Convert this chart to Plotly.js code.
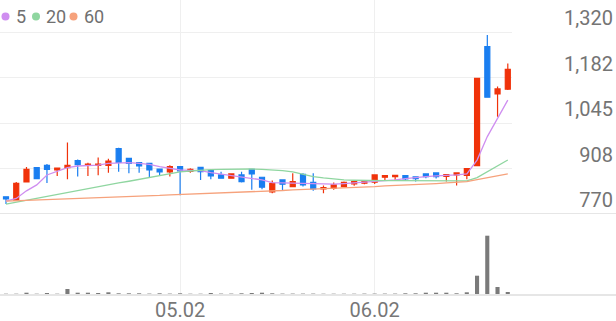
<!DOCTYPE html>
<html>
<head>
<meta charset="utf-8">
<script src="https://cdn.plot.ly/plotly-3.0.1.min.js"></script>
<style>html,body{margin:0;padding:0;background:#fff;}#chart{width:616px;height:321px;}</style>
</head>
<body>
<div id="chart"></div>
<script>
const dates = ['04.08','04.09','04.10','04.11','04.14','04.15','04.16','04.17','04.18','04.21',
  '04.22','04.23','04.24','04.25','04.28','04.29','04.30','05.02','05.07','05.08',
  '05.09','05.12','05.13','05.14','05.15','05.16','05.19','05.20','05.21','05.22',
  '05.23','05.26','05.27','05.28','05.29','05.30','06.02','06.04','06.05','06.09',
  '06.10','06.11','06.12','06.13','06.16','06.17','06.18','06.19','06.20','06.23'];
const openP  = [822,812,867,910,917,903,910,931,917,917,917,968,938,925,923,906,897,913,899,911,
  901,888,878,888,905,881,837,873,853,890,866,846,848,853,861,863,866,881,883,886,
  882,891,894,884,888,887,916,1276,1133,1147];
const highP  = [823,867,912,912,921,909,986,935,925,941,937,970,940,926,925,907,917,914,908,912,
  903,898,893,898,907,882,871,874,893,893,893,856,865,868,869,871,889,888,888,887,
  882,892,895,891,895,909,1181,1311,1155,1225];
const lowP   = [800,811,865,876,864,885,875,883,885,887,895,898,893,895,881,886,883,827,895,873,
  875,877,877,865,843,845,833,840,851,853,840,833,843,851,855,860,861,870,873,871,
  868,878,877,868,856,875,915,1122,1064,1145];
const closeP = [816,863,905,877,905,909,917,919,921,921,930,926,923,915,903,897,913,900,905,898,
  885,878,891,868,891,851,863,860,868,858,846,850,858,866,868,870,888,886,887,876,
  877,883,883,889,894,907,1180,1123,1148,1207];
const ma5  = [809,817,840,858,888,898,910,915,917,918,923,925,925,923,920,913,908,903,902,901,
  895,891,886,883,879,873,865,864,863,863,862,861,860,862,864,867,867,871,873,877,
  881,883,885,886,888,891,933,1004,1059,1114];
const ma20 = [800,806,811,817,823,829,835,840,846,852,858,864,869,875,881,886,892,897,900,903,
  904,905,906,906,906,905,904,901,897,890,883,879,875,873,872,871,871,871,871,871,
  871,871,870,870,870,870,880,897,915,933];
const ma60 = [809,810,811,813,814,815,816,817,818,820,821,822,823,824,825,826,828,829,830,831,
  833,834,835,836,838,839,840,841,843,844,845,846,848,849,850,852,853,855,856,858,
  859,861,862,864,866,868,874,880,885,891];
const volume = [3,3,13,3,10,3,50,13,13,10,17,7,7,7,4,7,4,7,3,3,
  10,4,4,7,10,13,7,4,4,4,4,3,3,3,3,4,4,4,4,7,
  7,13,13,13,7,17,183,583,70,20];
const maNames = ['5','20','60'];
const maColors = ['#cf8ef0','#8fd6a0','#f6a27c'];
const yTickVals = [770, 907.5, 1045, 1182.5, 1320];
const yTickText = ['770','908','1,045','1,182','1,320'];
const xTickLabels = ['05.02','06.02'];

const idx = dates.map((d, i) => i);
const xTickVals = xTickLabels.map(l => dates.indexOf(l));

const traces = [
  {type:'candlestick', x: idx, open: openP, high: highP, low: lowP, close: closeP,
   xaxis:'x', yaxis:'y', whiskerwidth: 0, showlegend:false, hoverinfo:'skip',
   increasing:{line:{color:'#f0320a', width:1.2}, fillcolor:'#f0320a'},
   decreasing:{line:{color:'#1a7ef0', width:1.2}, fillcolor:'#1a7ef0'}},
  {type:'scatter', mode:'lines', x: idx, y: ma5, xaxis:'x', yaxis:'y', line:{color:maColors[0], width:1.3}, showlegend:false, hoverinfo:'skip'},
  {type:'scatter', mode:'lines', x: idx, y: ma20, xaxis:'x', yaxis:'y', line:{color:maColors[1], width:1.3}, showlegend:false, hoverinfo:'skip'},
  {type:'scatter', mode:'lines', x: idx, y: ma60, xaxis:'x', yaxis:'y', line:{color:maColors[2], width:1.3}, showlegend:false, hoverinfo:'skip'},
  {type:'bar', x: idx, y: volume, xaxis:'x2', yaxis:'y2', width:0.4, marker:{color:'#7a7a7a'}, showlegend:false, hoverinfo:'skip'}
];

const plotH = 294;
const py = p => (plotH - p) / plotH;
const legendX = [5.5, 36, 73.5];
const legendTextX = [13.5, 44, 81.5];
const shapes = maColors.map((c, i) => ({
  type:'circle', xref:'paper', yref:'paper', xsizemode:'pixel', ysizemode:'pixel',
  xanchor: legendX[i]/616, yanchor: py(16.5), x0:-4, x1:4, y0:-4, y1:4,
  fillcolor:c, line:{width:0}
}));
const annotations = maNames.map((n, i) => ({
  xref:'paper', yref:'paper', x: legendTextX[i]/616, y: py(16.5), xanchor:'left', yanchor:'middle',
  text:n, showarrow:false, font:{family:'Roboto', size:18, color:'#707070'}
}));

const layout = {
  width:616, height:321, margin:{l:0, r:0, t:0, b:27},
  paper_bgcolor:'#fff', plot_bgcolor:'#fff',
  font:{family:'Roboto', color:'#707070'},
  showlegend:false, dragmode:false,
  xaxis:{domain:[0, 512/616], range:[-0.586, 49.41], anchor:'y', tickvals:xTickVals, showticklabels:false,
    showgrid:true, gridcolor:'#efefef', gridwidth:1, zeroline:false, showline:false, ticks:'',
    rangeslider:{visible:false}, fixedrange:true},
  yaxis:{domain:[1 - 214/294, 1], range:[770, 1416.7], anchor:'free', position:1, side:'right',
    ticklabelposition:'inside', tickvals:yTickVals, ticktext:yTickText, ticklabelshift:-14, ticklabelstandoff:0,
    tickfont:{family:'Roboto', size:20, color:'#747474'}, showgrid:true, gridcolor:'#efefef', gridwidth:1,
    zeroline:false, showline:false, ticks:'', fixedrange:true},
  xaxis2:{domain:[0,1], range:[-0.586, 59.57], anchor:'y2', tickvals:xTickVals, ticktext:xTickLabels,
    tickfont:{family:'Roboto', size:20, color:'#777'}, showgrid:true, gridcolor:'#efefef', gridwidth:1,
    ticklabelstandoff:-3,
    zeroline:false, showline:true, mirror:true, linecolor:'#e6e6e6', linewidth:1.5, ticks:'', fixedrange:true},
  yaxis2:{domain:[0, 1 - 214/294], range:[0, 800], anchor:'x2', showticklabels:false, showgrid:false,
    zeroline:false, showline:false, ticks:'', fixedrange:true},
  shapes: shapes,
  annotations: annotations
};

Plotly.newPlot('chart', traces, layout, {displayModeBar:false, staticPlot:true});
</script>
</body>
</html>
